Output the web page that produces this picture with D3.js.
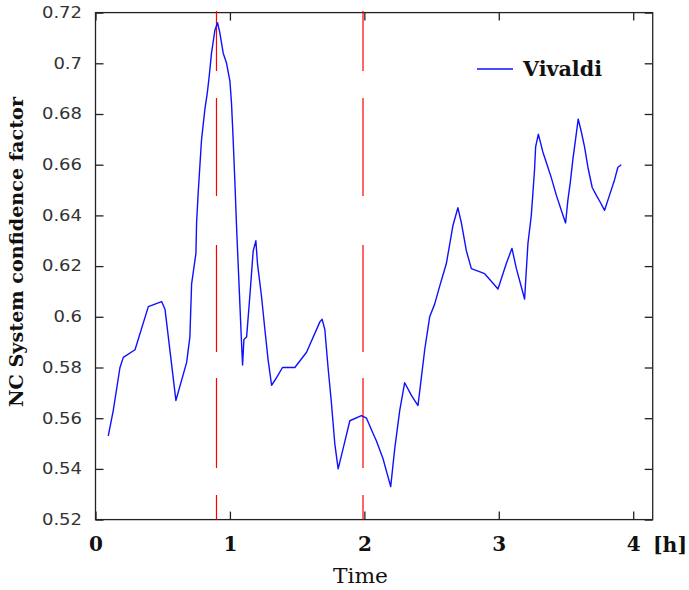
<!DOCTYPE html>
<html>
<head>
<meta charset="utf-8">
<script src="https://cdn.jsdelivr.net/npm/d3@7"></script>
<style>
  body { margin: 0; background: #fff; }
  svg { display: block; }
</style>
</head>
<body>
<script>
// time in hours
const times = [
  0.095, 0.132, 0.182, 0.207, 0.294, 0.393, 0.492, 0.517, 0.598, 0.678,
  0.702, 0.715, 0.747, 0.752, 0.764, 0.777, 0.789, 0.814, 0.831, 0.846,
  0.863, 0.888, 0.908, 0.925, 0.95, 0.975, 1.0, 1.012, 1.024, 1.037,
  1.049, 1.061, 1.074, 1.087, 1.094, 1.104, 1.124, 1.148, 1.173, 1.193,
  1.205, 1.235, 1.26, 1.284, 1.31, 1.347, 1.391, 1.44, 1.483, 1.57,
  1.669, 1.686, 1.706, 1.73, 1.755, 1.78, 1.805, 1.842, 1.892, 1.978,
  2.016, 2.065, 2.09, 2.139, 2.196, 2.226, 2.263, 2.3, 2.35, 2.399,
  2.424, 2.449, 2.486, 2.523, 2.56, 2.61, 2.659, 2.696, 2.722, 2.759,
  2.796, 2.895, 2.944, 2.994, 3.056, 3.098, 3.131, 3.192, 3.217, 3.242,
  3.254, 3.266, 3.274, 3.294, 3.309, 3.328, 3.353, 3.39, 3.428, 3.465,
  3.497, 3.514, 3.532, 3.551, 3.571, 3.591, 3.614, 3.638, 3.663, 3.695,
  3.725, 3.757, 3.787, 3.824, 3.861, 3.886, 3.911
];
const vivaldi = [
  0.553, 0.563, 0.580, 0.584, 0.587, 0.604, 0.606, 0.603, 0.567, 0.582,
  0.592, 0.613, 0.625, 0.637, 0.649, 0.660, 0.670, 0.682, 0.688, 0.695,
  0.704, 0.713, 0.716, 0.712, 0.704, 0.700, 0.693, 0.684, 0.670, 0.653,
  0.636, 0.621, 0.605, 0.589, 0.581, 0.591, 0.592, 0.608, 0.626, 0.630,
  0.621, 0.608, 0.595, 0.583, 0.573, 0.576, 0.580, 0.580, 0.580, 0.586,
  0.598, 0.599, 0.595, 0.580, 0.566, 0.550, 0.540, 0.548, 0.559, 0.561,
  0.560, 0.554, 0.551, 0.544, 0.533, 0.548, 0.563, 0.574, 0.569, 0.565,
  0.576, 0.587, 0.600, 0.605, 0.612, 0.621, 0.636, 0.643, 0.637, 0.626,
  0.619, 0.617, 0.614, 0.611, 0.621, 0.627, 0.619, 0.607, 0.629, 0.640,
  0.649, 0.658, 0.667, 0.672, 0.669, 0.665, 0.661, 0.655, 0.648, 0.642,
  0.637, 0.646, 0.653, 0.662, 0.670, 0.678, 0.673, 0.667, 0.659, 0.651,
  0.648, 0.645, 0.642, 0.648, 0.654, 0.659, 0.660
];
const markers = [0.9, 1.99];        // red dashed verticals
const xTicks = [0, 1, 2, 3, 4];
const yTicks = [0.52, 0.54, 0.56, 0.58, 0.6, 0.62, 0.64, 0.66, 0.68, 0.7, 0.72];
const seriesName = 'Vivaldi';

const w = 689;
const h = 590;
const mLeft = 95.5, mRight = 652.7, mTop = 12.6, mBottom = 519.6;

const svg = d3.select('body').append('svg').attr('width', w).attr('height', h);

const x = d3.scaleLinear().domain([0, 4.145]).range([mLeft, mRight]);
const y = d3.scaleLinear().domain([0.52, 0.72]).range([mBottom, mTop]);

// frame
svg.append('rect')
  .attr('x', mLeft).attr('y', mTop)
  .attr('width', mRight - mLeft).attr('height', mBottom - mTop)
  .attr('fill', 'none').attr('stroke', '#222').attr('stroke-width', 1.3);

const styleAxis = (g) => {
  g.select('.domain').remove();
  g.selectAll('.tick line').attr('stroke', '#222').attr('stroke-width', 1.3);
};

svg.append('g')
  .attr('transform', `translate(0,${mBottom})`)
  .call(d3.axisBottom(x).tickValues(xTicks).tickFormat(d3.format('d'))
    .tickSizeInner(-8).tickSizeOuter(0).tickPadding(17))
  .call(styleAxis)
  .call((g) => g.selectAll('text')
    .attr('fill', '#111')
    .style('font', 'bold 20px "DejaVu Serif"'));

svg.append('g')
  .attr('transform', `translate(0,${mTop})`)
  .call(d3.axisTop(x).tickValues(xTicks).tickFormat('').tickSizeInner(-8).tickSizeOuter(0))
  .call(styleAxis);

svg.append('g')
  .attr('transform', `translate(${mLeft},0)`)
  .call(d3.axisLeft(y).tickValues(yTicks).tickFormat((d) => d3.format('~g')(d))
    .tickSizeInner(-8).tickSizeOuter(0).tickPadding(13.5))
  .call(styleAxis)
  .call((g) => g.selectAll('text')
    .attr('fill', '#333')
    .style('font', '15px "DejaVu Sans"')
    .each(function () {
      d3.select(this)
        .attr('textLength', this.getComputedTextLength() * 1.2)
        .attr('lengthAdjust', 'spacingAndGlyphs');
    }));

svg.append('g')
  .attr('transform', `translate(${mRight},0)`)
  .call(d3.axisRight(y).tickValues(yTicks).tickFormat('').tickSizeInner(-8).tickSizeOuter(0))
  .call(styleAxis);

// red dashed markers
svg.selectAll('line.marker')
  .data(markers)
  .enter()
  .append('line')
  .attr('class', 'marker')
  .attr('x1', (d) => x(d)).attr('x2', (d) => x(d))
  .attr('y1', 11).attr('y2', mBottom)
  .attr('stroke', '#ff0000')
  .attr('stroke-width', 1.2)
  .attr('stroke-dasharray', '60,27,98,49,107,26,90,27,25');

// series
const line = d3.line().x((d, i) => x(times[i])).y((d) => y(d));
svg.append('path')
  .datum(vivaldi)
  .attr('d', line)
  .attr('fill', 'none')
  .attr('stroke', '#1010ff')
  .attr('stroke-width', 1.4)
  .attr('stroke-linejoin', 'round');

// legend
svg.append('line')
  .attr('x1', 477).attr('x2', 513).attr('y1', 69).attr('y2', 69)
  .attr('stroke', '#1010ff').attr('stroke-width', 1.4);
svg.append('text')
  .attr('x', 523).attr('y', 76)
  .attr('textLength', 79).attr('lengthAdjust', 'spacingAndGlyphs')
  .style('font', 'bold 20px "DejaVu Serif"')
  .attr('fill', '#111')
  .text(seriesName);

// axis titles
svg.append('text')
  .attr('x', 653).attr('y', 552)
  .attr('textLength', 34).attr('lengthAdjust', 'spacingAndGlyphs')
  .style('font', 'bold 20px "DejaVu Serif"')
  .attr('fill', '#111')
  .text('[h]');

svg.append('text')
  .attr('x', 360.5).attr('y', 583)
  .attr('text-anchor', 'middle')
  .attr('textLength', 55).attr('lengthAdjust', 'spacingAndGlyphs')
  .style('font', '20px "DejaVu Serif"')
  .attr('fill', '#111')
  .text('Time');

svg.append('text')
  .attr('transform', 'translate(23,252) rotate(-90)')
  .attr('text-anchor', 'middle')
  .attr('textLength', 310).attr('lengthAdjust', 'spacingAndGlyphs')
  .style('font', 'bold 18.5px "DejaVu Serif"')
  .attr('fill', '#111')
  .text('NC System confidence factor');
</script>
</body>
</html>
